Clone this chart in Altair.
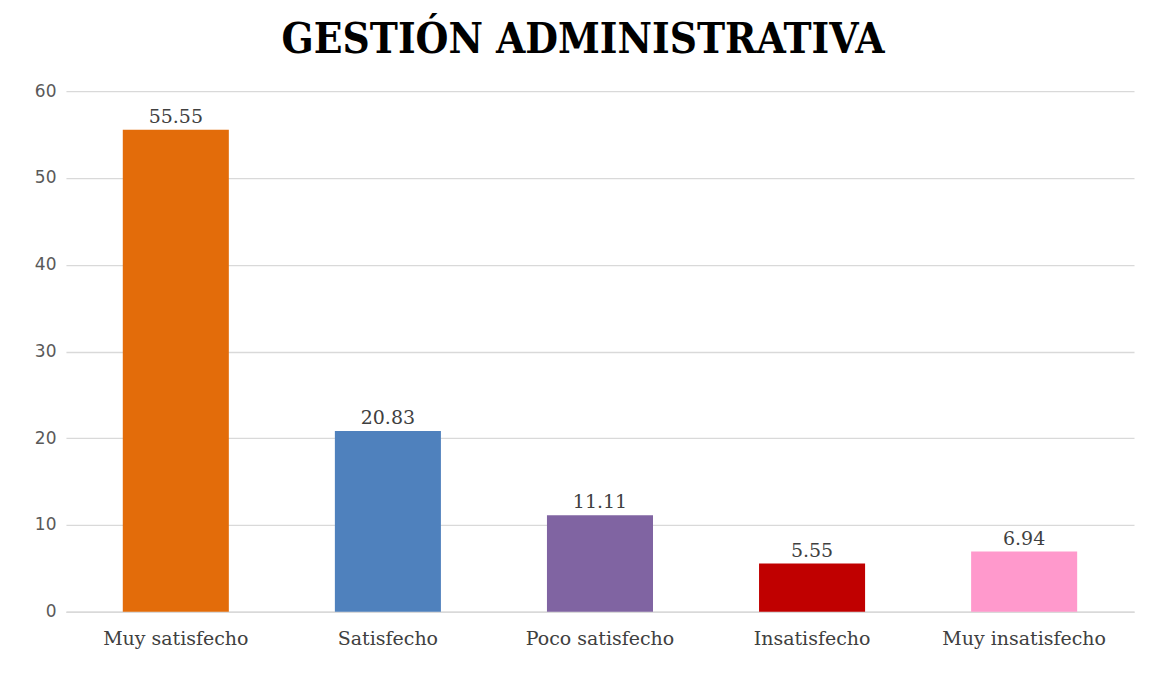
import altair as alt
import pandas as pd

categories = ["Muy satisfecho", "Satisfecho", "Poco satisfecho", "Insatisfecho", "Muy insatisfecho"]
values = [55.55, 20.83, 11.11, 5.55, 6.94]
labels = ["55.55", "20.83", "11.11", "5.55", "6.94"]
colors = ["#E36C0A", "#4F81BD", "#8064A2", "#C00000", "#FF99CC"]

df = pd.DataFrame({"cat": categories, "val": values, "lab": labels})

x = alt.X("cat:N", sort=categories, title=None,
          scale=alt.Scale(paddingInner=0.5, paddingOuter=0.268),
          axis=alt.Axis(labelAngle=0, labelFont="DejaVu Serif", labelFontSize=19,
                        labelColor="#404040", ticks=False, domainColor="#d9d9d9",
                        domainWidth=1.3, labelPadding=18))
y = alt.Y("val:Q", title=None,
          scale=alt.Scale(domain=[0, 60]),
          axis=alt.Axis(values=[0, 10, 20, 30, 40, 50, 60], labelFont="DejaVu Sans",
                        labelFontSize=17, labelColor="#595959", ticks=False,
                        domain=False, gridColor="#d9d9d9", gridWidth=1.3,
                        labelPadding=10))

bars = alt.Chart(df).mark_bar().encode(
    x=x, y=y,
    color=alt.Color("cat:N", sort=categories,
                    scale=alt.Scale(domain=categories, range=colors), legend=None),
)
text = alt.Chart(df).mark_text(baseline="bottom", dy=-3, font="DejaVu Serif",
                               fontSize=19, color="#404040").encode(
    x=alt.X("cat:N", sort=categories), y="val:Q", text="lab:N"
)

chart = (bars + text).properties(
    width=1069, height=521,
    background="white",
    title=alt.TitleParams("GESTIÓN ADMINISTRATIVA", font="DejaVu Serif Condensed",
                          fontSize=42, fontWeight="bold", color="#000000",
                          anchor="middle", offset=20, dx=-17),
    autosize=alt.AutoSizeParams(type="none"),
    padding={"left": 58, "top": 83, "right": 10, "bottom": 60},
).configure_view(strokeWidth=0)

chart.save("out.html", embed_options={"renderer": "svg", "actions": False})
